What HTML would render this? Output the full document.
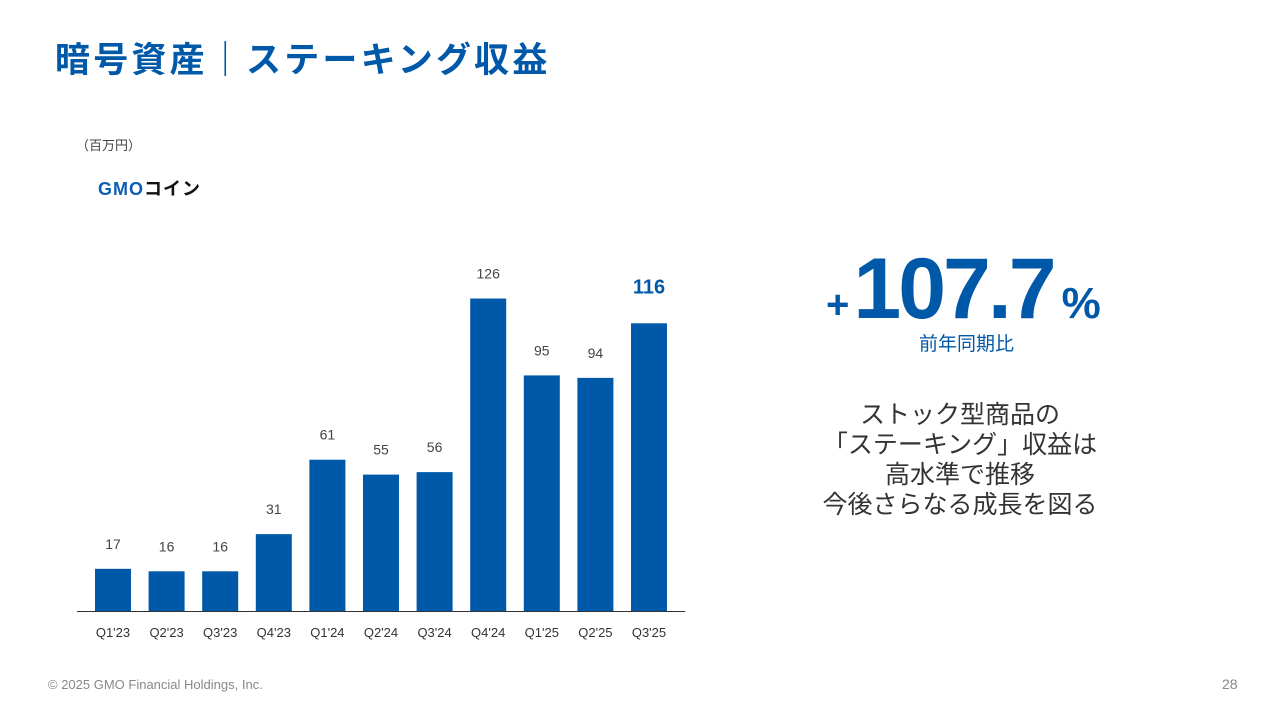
<!DOCTYPE html>
<html><head><meta charset="utf-8"><style>
body{margin:0;width:1280px;height:720px;background:#fff;position:relative;overflow:hidden;font-family:"Liberation Sans","Noto Sans CJK JP",sans-serif}
.a{position:absolute;white-space:nowrap}
</style></head><body>
<div class="a" style="left:55px;top:32px;font-size:35px;font-weight:bold;color:#0058a9;letter-spacing:3.2px">暗号資産｜ステーキング収益</div>
<div class="a" style="left:76px;top:135px;font-size:13px;color:#444">（百万円）</div>
<div class="a" style="left:98px;top:175px;font-size:18px;font-weight:bold;color:#0d5eb0;letter-spacing:1px">GMO<span style="color:#111">コイン</span></div>
<svg class="a" style="left:0;top:0" width="1280" height="720" id="chart"></svg>
<div class="a" style="left:826px;top:240px;color:#0058a9;font-weight:bold">
<span style="font-size:40px">+</span><span style="font-size:86px;letter-spacing:-3px;margin-left:4px">107.7</span><span style="font-size:44px;margin-left:8px">%</span></div>
<div class="a" style="left:919px;top:329px;font-size:19px;color:#0058a9">前年同期比</div>
<div class="a" style="left:760px;width:400px;top:400px;text-align:center;font-size:25px;line-height:30px;color:#333;white-space:normal">ストック型商品の<br>「ステーキング」収益は<br>高水準で推移<br>今後さらなる成長を図る</div>
<div class="a" style="left:48px;top:677px;font-size:13px;color:#888">© 2025 GMO Financial Holdings, Inc.</div>
<div class="a" style="left:1222px;top:676px;font-size:14px;color:#888">28</div>
<script>
const categories=["Q1'23","Q2'23","Q3'23","Q4'23","Q1'24","Q2'24","Q3'24","Q4'24","Q1'25","Q2'25","Q3'25"];
const values=[17,16,16,31,61,55,56,126,95,94,116];
const NS="http://www.w3.org/2000/svg";
const svg=document.getElementById('chart');
const base=611,scale=2.48,x0=95,step=53.6,bw=36;
const xPos=i=>x0+i*step;
const yPos=v=>base-v*scale;
function mk(t,attrs){const e=document.createElementNS(NS,t);for(const k in attrs)e.setAttribute(k,attrs[k]);svg.appendChild(e);return e;}
categories.forEach((c,i)=>{
  const v=values[i];
  const r=mk('rect',{x:xPos(i),y:yPos(v),width:bw,height:v*scale,fill:'#0058a9'});
  
  
  const last=i===categories.length-1;
  const t=mk('text',{x:xPos(i)+bw/2,y:yPos(v)-(last?30:20),'text-anchor':'middle','font-size':last?20:14,'font-weight':last?'bold':'normal',fill:last?'#0058a9':'#444'});
  t.textContent=v;
  
  
  const l=mk('text',{x:xPos(i)+bw/2,y:637,'text-anchor':'middle','font-size':13,fill:'#333'});
  l.textContent=c;
  
  
});
const ax=mk('line',{x1:77,x2:685,y1:base+0.5,y2:base+0.5,stroke:'#333','stroke-width':1});


</script>
</body></html>
